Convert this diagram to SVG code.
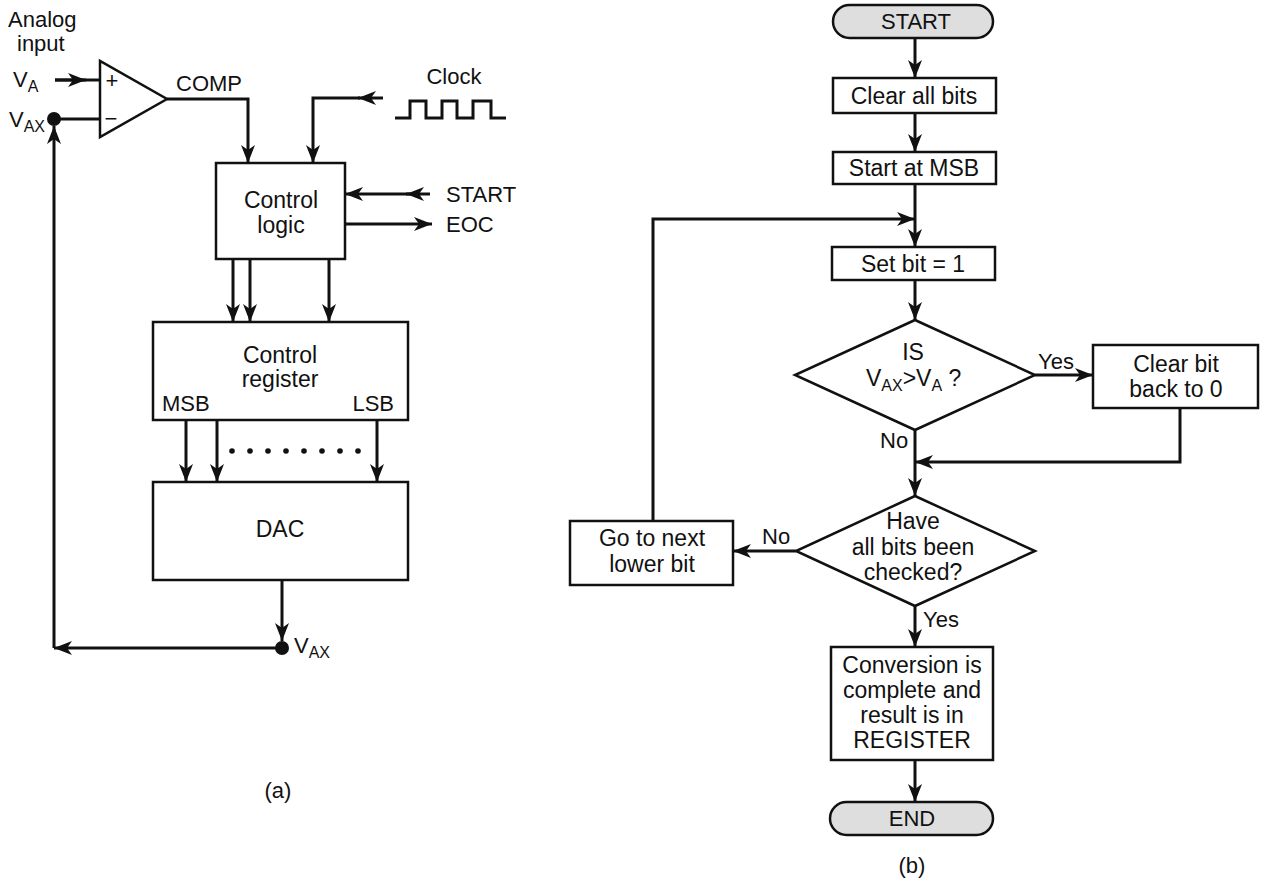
<svg xmlns="http://www.w3.org/2000/svg" width="1266" height="882" viewBox="0 0 1266 882">
<style>
text{font-family:"Liberation Sans",Arial,sans-serif;font-size:23px;fill:#111}
.lbl{font-size:22px}
.sub{font-size:16px}
.c{text-anchor:middle}
.box{fill:#fff;stroke:#111;stroke-width:2.5}
.term{fill:#dedede;stroke:#111;stroke-width:2.5}
.ln{fill:none;stroke:#111;stroke-width:3}
.a{fill:none;stroke:#111;stroke-width:3;marker-end:url(#ah)}
</style>
<defs>
<marker id="ah" markerUnits="userSpaceOnUse" markerWidth="20" markerHeight="16" refX="18" refY="7" orient="auto">
<path d="M0,0 L18,7 L0,14 L5,7 z" fill="#111"/>
</marker>
</defs>
<rect width="1266" height="882" fill="#fff"/>

<!-- (a) block diagram -->
<g id="analog-input">
<text class="lbl" x="8" y="27">Analog</text>
<text class="lbl" x="17" y="51">input</text>
<text class="lbl" x="13" y="87">V<tspan class="sub" dy="5">A</tspan></text>
<text class="lbl" x="9" y="127">V<tspan class="sub" dy="5">AX</tspan></text>
<circle cx="54" cy="119" r="7" fill="#111"/>
</g>
<g id="comparator">
<polygon points="100,61 100,137 167,99" fill="#fff" stroke="#111" stroke-width="2.5"/>
<text x="112" y="88" class="c" style="font-size:22px">+</text>
<text x="111" y="126" class="c" style="font-size:22px">−</text>
<text class="lbl" x="176" y="91">COMP</text>
</g>
<g id="clock">
<text class="lbl c" x="454" y="84">Clock</text>
<path class="ln" d="M395,118 H410 V101 H426 V118 H442 V101 H457 V118 H473 V101 H491 V118 H506"/>
</g>
<g id="control-logic">
<rect class="box" x="216" y="163" width="129" height="96"/>
<text class="c" x="281" y="208">Control</text>
<text class="c" x="281" y="233">logic</text>
</g>
<g id="start-eoc">
<text class="lbl" x="446" y="202">START</text>
<text class="lbl" x="446" y="232">EOC</text>
</g>
<g id="control-register">
<rect class="box" x="153" y="322" width="255" height="98"/>
<text class="c" x="280" y="363">Control</text>
<text class="c" x="280" y="387">register</text>
<text class="lbl" x="162" y="411">MSB</text>
<text class="lbl" x="394" y="411" text-anchor="end">LSB</text>
</g>
<g id="dac">
<rect class="box" x="153" y="482" width="255" height="98"/>
<text class="c" x="280" y="537">DAC</text>
</g>
<g id="vax-out">
<circle cx="282" cy="648" r="7" fill="#111"/>
<text class="lbl" x="294" y="653">V<tspan class="sub" dy="5">AX</tspan></text>
</g>
<text class="lbl c" x="278" y="798">(a)</text>

<g id="connectors-a">
<path class="ln" d="M55,80 H100"/>
<path class="a" d="M55,80 H86"/>
<path class="ln" d="M54,119 H100"/>
<path class="a" d="M167,99 H248 V163"/>
<path class="a" d="M383,98 H358"/>
<path class="a" d="M360,98 H313 V163"/>
<path class="a" d="M430,194 H406"/>
<path class="a" d="M410,194 H345"/>
<path class="a" d="M345,224 H432"/>
<path class="a" d="M233,259 V322"/>
<path class="a" d="M250,259 V322"/>
<path class="a" d="M329,259 V322"/>
<path class="a" d="M186,420 V482"/>
<path class="a" d="M217,420 V482"/>
<path class="a" d="M377,420 V482"/>
<g fill="#111">
<circle cx="232" cy="451" r="2.8"/><circle cx="250" cy="451" r="2.8"/><circle cx="268" cy="451" r="2.8"/><circle cx="286" cy="451" r="2.8"/>
<circle cx="304" cy="451" r="2.8"/><circle cx="322" cy="451" r="2.8"/><circle cx="340" cy="451" r="2.8"/><circle cx="358" cy="451" r="2.8"/>
</g>
<path class="a" d="M282,580 V641"/>
<path class="a" d="M276,648 H54"/>
<path class="a" d="M54,648 V126"/>
</g>

<!-- (b) flowchart -->
<g id="start">
<rect class="term" x="833" y="5" width="160" height="33" rx="16.5"/>
<text class="lbl c" x="916" y="29">START</text>
</g>
<g id="clear-all">
<rect class="box" x="833" y="78" width="163" height="35"/>
<text class="c" x="914" y="104">Clear all bits</text>
</g>
<g id="start-msb">
<rect class="box" x="833" y="152" width="163" height="32"/>
<text class="c" x="914" y="176">Start at MSB</text>
</g>
<g id="set-bit">
<rect class="box" x="832" y="247" width="163" height="33"/>
<text class="c" x="913" y="272">Set bit = 1</text>
</g>
<g id="decision-1">
<polygon points="915,320 1035,375 915,430 795,375" fill="#fff" stroke="#111" stroke-width="2.5"/>
<text class="c" x="913" y="360">IS</text>
<text x="866" y="386">V<tspan class="sub" dy="5">AX</tspan><tspan dy="-5">&gt;V</tspan><tspan class="sub" dy="5">A</tspan><tspan dy="-5"> ?</tspan></text>
</g>
<g id="clear-bit">
<rect class="box" x="1093" y="345" width="165" height="63"/>
<text class="c" x="1176" y="372">Clear bit</text>
<text class="c" x="1176" y="397">back to 0</text>
</g>
<g id="decision-2">
<polygon points="915,496 1035,551 915,606 796,551" fill="#fff" stroke="#111" stroke-width="2.5"/>
<text class="c" x="913" y="529">Have</text>
<text class="c" x="913" y="555">all bits been</text>
<text class="c" x="913" y="580">checked?</text>
</g>
<g id="next-bit">
<rect class="box" x="570" y="521" width="163" height="64"/>
<text class="c" x="652" y="546">Go to next</text>
<text class="c" x="652" y="572">lower bit</text>
</g>
<g id="conversion">
<rect class="box" x="831" y="647" width="162" height="113"/>
<text class="c" x="912" y="673">Conversion is</text>
<text class="c" x="912" y="698">complete and</text>
<text class="c" x="912" y="723">result is in</text>
<text class="c" x="912" y="748">REGISTER</text>
</g>
<g id="end">
<rect class="term" x="830" y="802" width="163" height="33" rx="16.5"/>
<text class="lbl c" x="912" y="826">END</text>
</g>
<text class="lbl c" x="912" y="873">(b)</text>

<g id="connectors-b">
<path class="a" d="M915,38 V78"/>
<path class="a" d="M915,113 V152"/>
<path class="a" d="M915,184 V247"/>
<path class="a" d="M653,521 V219 H915"/>
<path class="a" d="M915,280 V320"/>
<path class="a" d="M1035,375 H1093"/>
<path class="a" d="M1180,408 V462 H915"/>
<path class="a" d="M915,430 V496"/>
<path class="a" d="M796,551 H733"/>
<path class="a" d="M915,606 V647"/>
<path class="a" d="M915,760 V802"/>
<text class="lbl" x="1038" y="369">Yes</text>
<text class="lbl" x="880" y="448">No</text>
<text class="lbl" x="762" y="544">No</text>
<text class="lbl" x="923" y="627">Yes</text>
</g>
</svg>
